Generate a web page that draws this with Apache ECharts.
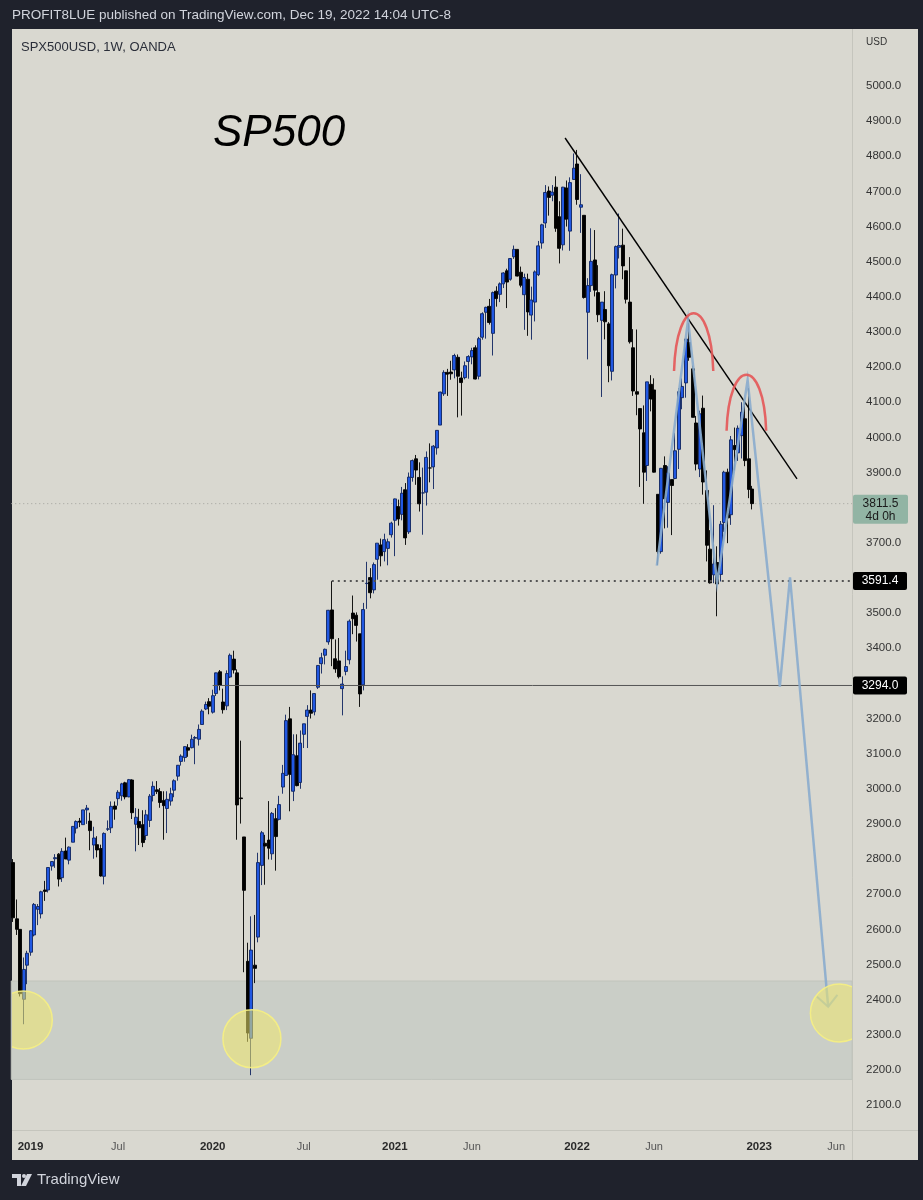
<!DOCTYPE html>
<html><head><meta charset="utf-8">
<script src="https://cdn.jsdelivr.net/npm/echarts@6/dist/echarts.min.js"></script>
<style>html,body{margin:0;padding:0;background:#1f222c;}#c{width:923px;height:1200px;}</style>
</head><body><div id="c"></div>
<script>
// weekly OHLC rows: [open, high, low, close]
const w2018 = [
[2790,2800,2621,2633],[2630,2685,2584,2600],[2600,2601,2409,2417],[2401,2520,2330,2486],[2498,2539,2444,2532]];
const w2019 = [
[2535,2598,2525,2596],[2584,2675,2580,2671],[2657,2672,2612,2665],[2644,2710,2631,2707],
[2712,2738,2681,2708],[2712,2776,2705,2776],[2780,2794,2767,2793],[2801,2814,2775,2804],
[2814,2817,2722,2743],[2747,2831,2735,2822],[2823,2861,2800,2800],[2797,2836,2785,2834],
[2848,2894,2848,2893],[2888,2910,2873,2907],[2908,2917,2891,2905],[2898,2940,2898,2940],[2940,2954,2900,2945],
[2908,2932,2825,2881],[2840,2892,2801,2860],[2841,2865,2805,2826],[2830,2841,2750,2752],
[2751,2876,2728,2873],[2885,2910,2880,2886],[2889,2964,2874,2950],[2951,2964,2912,2942],
[2972,2996,2952,2990],[2980,3017,2966,3014],[3017,3020,2970,2977],[2977,3028,2976,3026],[3025,3027,2914,2932],
[2899,2945,2822,2919],[2907,2943,2840,2889],[2898,2939,2834,2847],[2867,2940,2854,2926],
[2910,2985,2891,2979],[2981,3021,2964,3007],[2997,3022,2985,2992],[2992,3002,2946,2961],[2967,2993,2855,2952],
[2944,2993,2874,2970],[2965,3003,2952,2986],[2996,3027,2976,3023],[3036,3066,3023,3067],
[3078,3098,3066,3093],[3089,3121,3077,3120],[3117,3127,3091,3110],[3117,3154,3115,3141],
[3144,3150,3070,3146],[3141,3183,3123,3169],[3183,3226,3183,3221],[3227,3248,3224,3240],[3248,3258,3212,3235]];
const w2020 = [
[3218,3282,3214,3265],[3271,3329,3264,3330],[3333,3338,3280,3295],[3247,3285,3214,3225],
[3236,3337,3224,3328],[3318,3385,3315,3380],[3369,3393,3328,3338],[3330,3340,2855,2954],
[2974,3137,2901,2972],[2863,2863,2478,2711],[2509,2562,2280,2305],[2290,2637,2185,2541],[2498,2641,2447,2489],
[2578,2818,2563,2790],[2782,2880,2726,2875],[2845,2869,2727,2837],[2854,2965,2799,2831],
[2815,2934,2798,2930],[2915,2945,2767,2864],[2913,2980,2910,2955],[3005,3068,2986,3044],
[3038,3211,3038,3194],[3199,3233,2936,3041],[2993,3155,2965,3097],[3094,3155,3007,3009],[3018,3166,3000,3130],
[3155,3185,3116,3185],[3206,3238,3116,3224],[3224,3280,3200,3215],[3219,3272,3209,3271],
[3289,3352,3284,3351],[3356,3387,3328,3373],[3380,3399,3354,3397],[3418,3509,3410,3508],[3509,3591,3349,3427],
[3370,3425,3330,3341],[3364,3429,3314,3319],[3285,3320,3209,3298],[3334,3393,3323,3348],
[3367,3482,3354,3477],[3500,3550,3440,3484],[3494,3502,3419,3465],[3441,3441,3233,3270],
[3296,3529,3280,3510],[3584,3646,3512,3585],[3601,3628,3542,3558],[3566,3644,3556,3638],[3653,3699,3595,3699],
[3694,3712,3633,3663],[3675,3726,3647,3709],[3684,3712,3636,3703],[3723,3760,3715,3756]];
const w2021 = [
[3764,3826,3662,3825],[3803,3823,3749,3768],[3781,3859,3764,3841],[3851,3870,3694,3714],
[3731,3900,3725,3887],[3886,3937,3874,3934],[3939,3950,3865,3907],[3886,3929,3789,3811],
[3842,3914,3723,3842],[3844,3960,3806,3943],[3913,3983,3872,3913],[3916,3978,3853,3975],[3970,4020,3951,4020],
[4035,4130,4035,4129],[4124,4191,4118,4185],[4185,4195,4118,4180],[4186,4218,4164,4181],
[4192,4238,4168,4233],[4228,4236,4057,4174],[4169,4187,4062,4156],[4170,4216,4165,4204],[4216,4234,4167,4230],
[4229,4255,4208,4247],[4255,4262,4165,4166],[4174,4286,4165,4281],[4285,4356,4278,4352],
[4356,4372,4281,4370],[4373,4394,4321,4327],[4296,4415,4233,4412],[4416,4430,4372,4395],
[4407,4441,4385,4437],[4437,4470,4425,4468],[4474,4480,4368,4442],[4450,4510,4446,4509],[4514,4546,4508,4535],
[4535,4536,4458,4459],[4470,4486,4427,4433],[4406,4466,4306,4455],[4450,4466,4289,4357],
[4348,4429,4278,4391],[4385,4475,4330,4471],[4463,4559,4459,4545],[4553,4608,4537,4605],
[4610,4718,4596,4697],[4701,4714,4631,4683],[4689,4718,4672,4698],[4712,4743,4585,4595],[4628,4672,4495,4538],
[4548,4713,4532,4712],[4710,4731,4600,4621],[4587,4740,4531,4725],[4734,4808,4733,4766]];
const w2022 = [
[4778,4818,4662,4677],[4655,4749,4582,4662],[4632,4632,4395,4398],[4356,4453,4222,4432],[4432,4595,4414,4501],
[4505,4590,4401,4419],[4412,4490,4328,4349],[4333,4385,4115,4385],[4364,4416,4279,4329],
[4323,4328,4157,4204],[4188,4466,4162,4463],[4462,4546,4424,4543],[4541,4637,4509,4546],
[4547,4594,4450,4488],[4474,4471,4381,4393],[4385,4513,4267,4272],[4255,4308,4118,4132],
[4130,4307,4063,4123],[4082,4082,3859,4024],[4013,4091,3811,3901],[3920,4158,3876,4158],[4151,4177,4074,4109],
[4135,4168,3900,3901],[3838,3838,3637,3675],[3675,3913,3669,3912],[3920,3946,3741,3825],
[3815,3918,3743,3899],[3880,3880,3722,3863],[3883,4013,3881,3962],[3966,4140,3910,4130],
[4113,4168,4080,4145],[4155,4280,4113,4280],[4270,4325,4218,4228],[4195,4204,4057,4057],[4041,4061,3906,3924],
[3910,4076,3887,4067],[4083,4119,3837,3873],[3849,3906,3647,3693],[3682,3736,3584,3586],
[3609,3807,3585,3640],[3644,3690,3491,3583],[3610,3762,3590,3753],[3758,3905,3731,3901],[3901,3911,3699,3771],
[3780,4004,3751,3993],[3977,4028,3906,3965],[3956,4034,3933,4026],[4005,4100,3940,4072],
[4053,4100,3918,3934],[3939,4140,3827,3852],[3853,3862,3795,3811.5]];

// time-axis tick labels (category index -> text)
const tickIdx  = [5, 30, 57, 83, 109, 131, 161, 183, 213, 235];
const tickText = ['2019','Jul','2020','Jul','2021','Jun','2022','Jun','2023','Jun'];

// drawings, in [week index, price]
const trendLine = [[157.6, 4852], [223.8, 3882]];
const projPath  = [[183.8,3635],[192.7,4334],[201.0,3586],[209.7,4163],[218.9,3291],[221.8,3602],[232.7,2380]];
const arcs      = [[188.7,199.9,4189,4353],[203.7,215.0,4019,4178]]; // x0, x1, base, top
const circles   = [[2.94,2342],[68.2,2289],[235.9,2362]];
const zoneLow = 2173, zoneHigh = 2453;
const level1 = 3294.0, level1From = 57;
const level2 = 3591.4, level2From = 91;
const lastPrice = 3811.5;

const nCats = 240;
const categories = [];
for (let i = 0; i < nCats; i++) {
  categories.push(new Date(Date.UTC(2018, 11, 3) + i * 7 * 86400000).toISOString().slice(0, 10));
}
const rows = [...w2018, ...w2019, ...w2020, ...w2021, ...w2022];
const candles = rows.map(r => [r[0], r[3], r[2], r[1]]);
const tickMap = {};
tickIdx.forEach((k, j) => tickMap[k] = tickText[j]);

const FONT = 'Liberation Sans, Arial, sans-serif';
const PANE_BG = '#d9d8d0';

const clipTo = (cs) => ({ type: 'rect', shape: { x: Math.max(cs.x, 12), y: cs.y, width: cs.x + cs.width - Math.max(cs.x, 12), height: cs.height } });

const chart = echarts.init(document.getElementById('c'));
const option = {
  backgroundColor: '#1f222c',
  animation: false,
  grid: { left: 11.25, right: 71, top: 15.7, bottom: 59.8, containLabel: false },
  xAxis: [
    { type: 'category', data: categories, boundaryGap: true,
      axisLine: { show: false }, axisTick: { show: false }, splitLine: { show: false },
      axisLabel: {
        interval: (i) => tickMap[i] !== undefined,
        formatter: (v, i) => {
          const t = tickMap[i];
          if (t === undefined) return '';
          return /^\d{4}$/.test(t) ? '{y|' + t + '}' : '{m|' + t + '}';
        },
        margin: 7, verticalAlign: 'middle',
        rich: {
          y: { fontFamily: FONT, fontSize: 11.5, fontWeight: 'bold', color: '#2a2a2a' },
          m: { fontFamily: FONT, fontSize: 11, color: '#555' }
        }
      } },
    { type: 'value', min: -0.5, max: nCats - 0.5, show: false }
  ],
  yAxis: [{
    type: 'value', position: 'right', min: 2000, max: 5200, interval: 100, scale: true,
    axisLine: { show: false }, axisTick: { show: false }, splitLine: { show: false },
    axisLabel: { margin: 14, fontFamily: FONT, fontSize: 11.5, color: '#333',
      formatter: v => (v >= 2100 && v <= 5000) ? v.toFixed(1) : '' }
  }],
  series: [
    { type: 'candlestick', name: 'SPX500USD', xAxisIndex: 0, data: candles, barWidth: 3.5, z: 3,
      itemStyle: { color: '#2158e2', color0: '#000000', borderColor: '#0f2460', borderColor0: '#000000', borderWidth: 0.9 },
      markArea: { silent: true, z: 1,
        itemStyle: { color: '#cacec7', borderColor: '#c0c4bc', borderWidth: 1 },
        data: [[{ yAxis: zoneLow }, { yAxis: zoneHigh }]] } },
    { type: 'line', xAxisIndex: 1, data: [[-0.5, lastPrice], [nCats - 0.5, lastPrice]], symbol: 'none', z: 2,
      lineStyle: { color: '#a3a39c', width: 1, type: [1, 3] } },
    { type: 'line', xAxisIndex: 1, data: [[level1From, level1], [nCats - 0.5, level1]], symbol: 'none', z: 4,
      lineStyle: { color: '#555555', width: 1 } },
    { type: 'line', xAxisIndex: 1, data: [[level2From, level2], [nCats - 0.5, level2]], symbol: 'none', z: 4,
      lineStyle: { color: '#555555', width: 2, type: [2, 4] } },
    { type: 'line', xAxisIndex: 1, data: trendLine, symbol: 'none', z: 5,
      lineStyle: { color: '#000000', width: 1.4 } },
    { type: 'line', xAxisIndex: 1, data: projPath, symbol: 'none', z: 6,
      lineStyle: { color: 'rgba(137,172,205,0.9)', width: 2.5, join: 'miter' } },
    { type: 'custom', xAxisIndex: 1, z: 6, silent: true,
      data: [[projPath[projPath.length - 2][0], projPath[projPath.length - 2][1], projPath[projPath.length - 1][0], projPath[projPath.length - 1][1]]],
      renderItem: (params, api) => {
        const a = api.coord([api.value(0), api.value(1)]);
        const b = api.coord([api.value(2), api.value(3)]);
        const ang = Math.atan2(a[1] - b[1], a[0] - b[0]);
        const L = 15, s = 0.75;
        const w1 = [b[0] + L * Math.cos(ang + s), b[1] + L * Math.sin(ang + s)];
        const w2 = [b[0] + L * Math.cos(ang - s), b[1] + L * Math.sin(ang - s)];
        return { type: 'polyline', shape: { points: [w1, b, w2] },
          style: { stroke: 'rgba(137,172,205,0.9)', lineWidth: 2, fill: null } };
      } },
    { type: 'custom', xAxisIndex: 1, z: 7, silent: true, data: arcs,
      renderItem: (params, api) => {
        const p0 = api.coord([api.value(0), api.value(2)]);
        const p1 = api.coord([api.value(1), api.value(2)]);
        const top = api.coord([api.value(0), api.value(3)])[1];
        const k = (p0[1] - top) * 4 / 3;
        const w = p1[0] - p0[0];
        return { type: 'bezierCurve',
          shape: { x1: p0[0], y1: p0[1], cpx1: p0[0] + w * 0.06, cpy1: p0[1] - k, cpx2: p1[0] - w * 0.06, cpy2: p1[1] - k, x2: p1[0], y2: p1[1] },
          style: { stroke: 'rgba(228,86,86,0.9)', lineWidth: 2.5, fill: null } };
      } },
    { type: 'custom', xAxisIndex: 1, z: 8, silent: true, data: circles,
      renderItem: (params, api) => {
        const c = api.coord([api.value(0), api.value(1)]);
        return { type: 'circle', shape: { cx: c[0], cy: c[1], r: 29 },
          clipPath: clipTo(params.coordSys),
          style: { fill: 'rgba(240,232,110,0.55)', stroke: 'rgba(246,240,130,0.9)', lineWidth: 1.5 } };
      } }
  ],
  graphic: [
    { id: 'pane', type: 'rect', z: -10, shape: { x: 12, y: 29, width: 906, height: 1131 }, style: { fill: PANE_BG } },
    { id: 'vsep', type: 'line', z: -9, shape: { x1: 852.5, y1: 29, x2: 852.5, y2: 1160 }, style: { stroke: '#c5c5bd', lineWidth: 1 } },
    { id: 'hsep', type: 'line', z: -9, shape: { x1: 12, y1: 1130.5, x2: 918, y2: 1130.5 }, style: { stroke: '#c5c5bd', lineWidth: 1 } },
    { id: 'hdr', type: 'text', z: 50, left: 12, top: 8, style: { text: 'PROFIT8LUE published on TradingView.com, Dec 19, 2022 14:04 UTC-8', fill: '#d1d4dc', font: '13.5px ' + FONT } },
    { id: 'sym', type: 'text', z: 50, left: 21, top: 41, style: { text: 'SPX500USD, 1W, OANDA', fill: '#2a2e39', font: '13px ' + FONT } },
    { id: 'usd', type: 'text', z: 50, left: 866, top: 37, style: { text: 'USD', fill: '#333', font: '10px ' + FONT } },
    { id: 'title', type: 'text', z: 50, left: 213, top: 112, style: { text: 'SP500', fill: '#000', font: 'italic 44px ' + FONT } },
    { id: 'tvtxt', type: 'text', z: 50, left: 37, top: 1172, style: { text: 'TradingView', fill: '#d1d4dc', font: '15px ' + FONT } },
    { id: 'lg1', type: 'polygon', z: 50, shape: { points: [[12,1174],[21,1174],[21,1186],[17,1186],[17,1178],[12,1178]] }, style: { fill: '#d1d4dc' } },
    { id: 'lg2', type: 'circle', z: 50, shape: { cx: 24, cy: 1176, r: 2 }, style: { fill: '#d1d4dc' } },
    { id: 'lg3', type: 'polygon', z: 50, shape: { points: [[27,1174],[32,1174],[26,1186],[21,1186]] }, style: { fill: '#d1d4dc' } }
  ]
};
chart.setOption(option);

const yPx = v => chart.convertToPixel({ yAxisIndex: 0 }, v);
const y1 = yPx(level1), y2 = yPx(level2), y3 = yPx(lastPrice);
chart.setOption({ graphic: [
  { id: 'b1', type: 'rect', z: 60, shape: { x: 853, y: y1 - 9, width: 54, height: 18, r: 2 }, style: { fill: '#000' } },
  { id: 't1', type: 'text', z: 61, x: 880, y: y1, style: { text: level1.toFixed(1), fill: '#fff', font: '12px ' + FONT, align: 'center', verticalAlign: 'middle' } },
  { id: 'b2', type: 'rect', z: 60, shape: { x: 853, y: y2 - 9, width: 54, height: 18, r: 2 }, style: { fill: '#000' } },
  { id: 't2', type: 'text', z: 61, x: 880, y: y2, style: { text: level2.toFixed(1), fill: '#fff', font: '12px ' + FONT, align: 'center', verticalAlign: 'middle' } },
  { id: 'b3', type: 'rect', z: 60, shape: { x: 853, y: y3 - 9, width: 55, height: 29, r: 2 }, style: { fill: '#92b4a4' } },
  { id: 't3', type: 'text', z: 61, x: 880.5, y: y3, style: { text: lastPrice.toFixed(1), fill: '#1a1a1a', font: '12px ' + FONT, align: 'center', verticalAlign: 'middle' } },
  { id: 't3b', type: 'text', z: 61, x: 880.5, y: y3 + 13, style: { text: '4d 0h', fill: '#1a1a1a', font: '12px ' + FONT, align: 'center', verticalAlign: 'middle' } }
] });
</script></body></html>
